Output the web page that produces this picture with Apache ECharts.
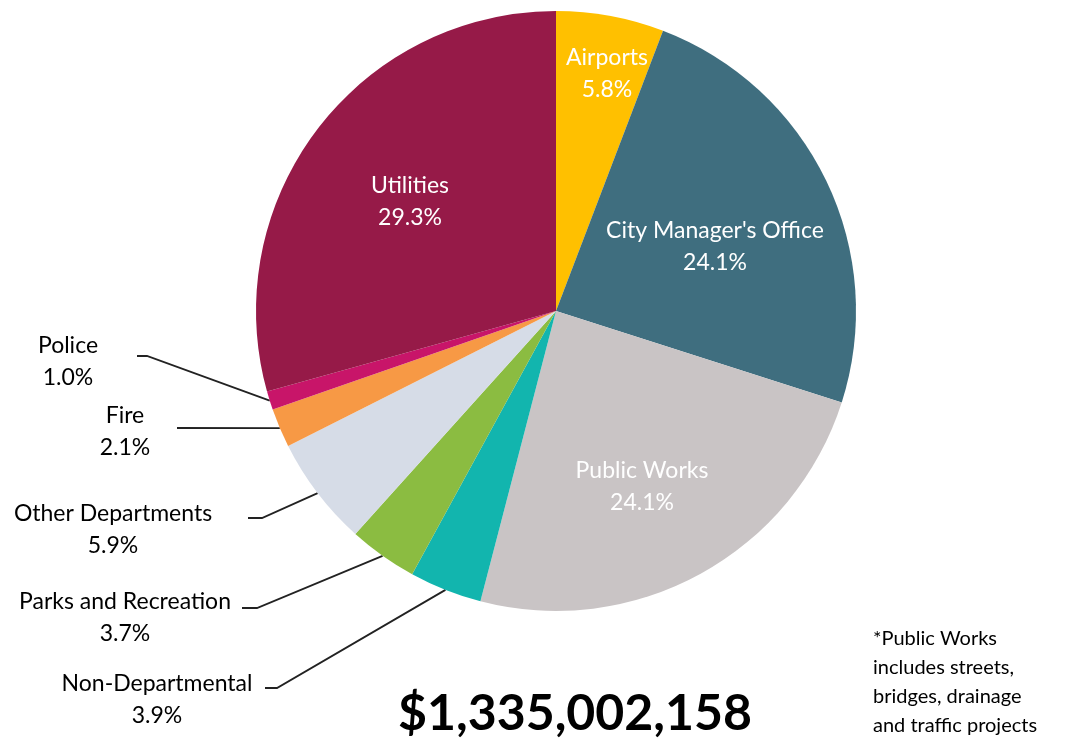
<!DOCTYPE html>
<html>
<head>
<meta charset="utf-8">
<title>Budget by department</title>
<script src="https://cdn.jsdelivr.net/npm/echarts@6/dist/echarts.min.js"></script>
<style>
    html, body { margin: 0; padding: 0; background: #fff; }
    #main { width: 1065px; height: 741px; }
</style>
</head>
<body>
<div id="main"></div>
<script>
    // data, clockwise from 12 o'clock
    var departments = ['Airports', 'City Manager\'s Office', 'Public Works', 'Non-Departmental',
        'Parks and Recreation', 'Other Departments', 'Fire', 'Police', 'Utilities'];
    var shares = [5.8, 24.1, 24.1, 3.9, 3.7, 5.9, 2.1, 1.0, 29.3];
    var totalBudget = '$1,335,002,158';
    var footnote = ['*Public Works', 'includes streets,', 'bridges, drainage', 'and traffic projects'];

    // styles / layout
    var colors = ['#FFC000', '#3F6E7F', '#C9C4C5', '#12B5AE', '#8BBC41',
        '#D6DCE7', '#F79945', '#C81569', '#961A48'];
    var insideLabel = [true, true, true, false, false, false, false, false, true];
    // label block centre
    var labelPos = [[607, 74], [715, 247], [642, 487], [157, 700], [125, 618],
        [113, 530], [125, 432], [68, 362], [410, 202]];
    // leader line: end x, y and length of the flat piece
    var leaderEnd = [null, null, null, [265, 688, 12], [242, 608, 15],
        [248, 518, 14], [177, 428, 0], [137, 356, 10], null];

    var myChart = echarts.init(document.getElementById('main'));

    var pieData = departments.map(function (name, i) {
        return {
            name: name,
            value: shares[i],
            itemStyle: { color: colors[i] },
            label: {
                position: insideLabel[i] ? 'inside' : 'outside',
                color: insideLabel[i] ? '#fff' : '#000'
            },
            labelLine: { show: !insideLabel[i] }
        };
    });

    var option = {
        animation: false,
        title: [
            {
                text: totalBudget,
                left: 570,
                top: 684,
                textAlign: 'center',
                textStyle: {
                    fontFamily: 'Lato',
                    fontWeight: 'bold',
                    fontSize: 50,
                    color: '#000'
                }
            },
            {
                text: footnote.join('\n'),
                left: 868,
                top: 619,
                textStyle: {
                    fontFamily: 'Lato',
                    fontWeight: 'normal',
                    fontSize: 20,
                    lineHeight: 29,
                    color: '#000'
                }
            }
        ],
        series: [
            {
                type: 'pie',
                center: [556, 311],
                radius: 300,
                startAngle: 90,
                clockwise: true,
                avoidLabelOverlap: false,
                data: pieData,
                label: {
                    fontFamily: 'Lato',
                    fontSize: 23,
                    lineHeight: 32,
                    formatter: function (p) {
                        return p.name + '\n' + p.value.toFixed(1) + '%';
                    }
                },
                labelLine: {
                    length: 20,
                    length2: 10,
                    lineStyle: { color: '#222', width: 1.8 }
                },
                labelLayout: function (params) {
                    var i = params.dataIndex;
                    var res = {
                        x: labelPos[i][0],
                        y: labelPos[i][1],
                        align: 'center',
                        verticalAlign: 'middle'
                    };
                    var end = leaderEnd[i];
                    if (end && params.labelLinePoints) {
                        var start = params.labelLinePoints[0];
                        res.labelLinePoints = end[2] > 0
                            ? [start, [end[0] + end[2], end[1]], [end[0], end[1]]]
                            : [start, [end[0], end[1]]];
                    }
                    return res;
                }
            }
        ]
    };
    myChart.setOption(option);
</script>
</body>
</html>
